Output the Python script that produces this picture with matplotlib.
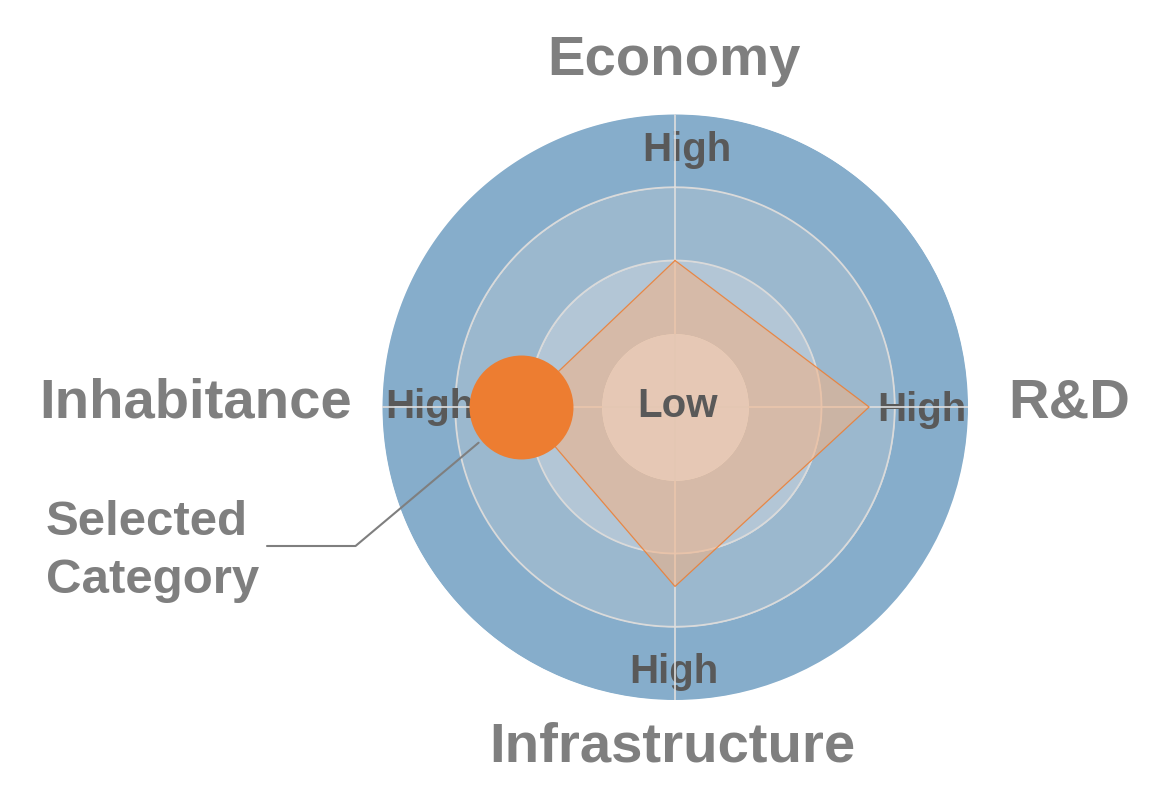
import numpy as np
import matplotlib.pyplot as plt

# axes go clockwise from the top
categories = ["Economy", "R&D", "Infrastructure", "Inhabitance"]
values = [2.0, 2.65, 2.45, 2.1]
selected = "Inhabitance"
ring_levels = [1, 2, 3, 4]
level_labels = ["Low", "High"]

plt.rcParams['font.family'] = ['Liberation Sans', 'DejaVu Sans']

fig = plt.figure(figsize=(11.65, 8.11), dpi=100)
# centre of the chart sits at pixel (675, 407), outer radius 293 px
ax = fig.add_axes([382 / 1165, 111 / 811, 586 / 1165, 586 / 811], projection='polar')
ax.set_theta_zero_location('N')
ax.set_theta_direction(-1)
ax.set_ylim(0, ring_levels[-1])
ax.axis('off')

angles = np.arange(len(categories)) * 2 * np.pi / len(categories)
theta = np.linspace(0, 2 * np.pi, 500)

# coloured rings, outside in
ring_colors = ['#86adcb', '#9bb8ce', '#b3c6d6']
for lo, col in zip([3, 2, 1], ring_colors):
    ax.fill_between(theta, lo, lo + 1, color=col, lw=0, zorder=1)

for lvl in ring_levels[1:3]:
    ax.plot(theta, np.full_like(theta, lvl), color='#dadada', lw=1.3, zorder=2)

# spokes
for a in angles:
    ax.plot([a, a], [0, ring_levels[-1]], color='#dedede', lw=1.2, zorder=3)

# the data polygon
ang_c = np.append(angles, angles[0])
val_c = np.append(values, values[0])
ax.fill(ang_c, val_c, color='#f4b183', alpha=0.55, lw=0, zorder=4)
ax.plot(ang_c, val_c, color='#ed7d31', lw=0.9, alpha=0.85, zorder=4)

# inner "low" disc
ax.fill_between(theta, 0, ring_levels[0], color='#e3c7b4', alpha=0.85, lw=0, zorder=5)

# level labels
high_offsets = [(11.5, -47), (-46, -14), (-1, 17), (47.5, -11)]
for a, off in zip(angles, high_offsets):
    ax.annotate(level_labels[1], xy=(a, ring_levels[-1]), xytext=off,
                textcoords='offset pixels', ha='center', va='baseline',
                fontsize=29, fontweight='bold', color='#595959', zorder=2.5,
                annotation_clip=False)
ax.annotate(level_labels[0], xy=(0, 0), xytext=(3, -10), textcoords='offset pixels',
            ha='center', va='baseline', fontsize=29, fontweight='bold',
            color='#595959', zorder=8, annotation_clip=False)

# category names
cat_offsets = [(-1, 39), (40, -10), (-3, -62), (-30, -10)]
cat_ha = ['center', 'left', 'center', 'right']
for a, name, off, ha in zip(angles, categories, cat_offsets, cat_ha):
    ax.annotate(name, xy=(a, ring_levels[-1]), xytext=off, textcoords='offset pixels',
                ha=ha, va='baseline', fontsize=40.5, fontweight='bold',
                color='#7f7f7f', annotation_clip=False)

# selected category marker
idx = categories.index(selected)
ax.scatter([angles[idx]], [values[idx]], s=5600, color='#ed7d31', lw=0, zorder=7)

ax.annotate("", xy=(angles[idx], values[idx]), xycoords='data',
            xytext=(267, 811 - 546), textcoords='figure pixels',
            arrowprops=dict(arrowstyle='-', color='#7f7f7f', lw=1.5,
                            shrinkA=0, shrinkB=40,
                            connectionstyle='angle,angleA=0,angleB=40,rad=0'),
            annotation_clip=False, zorder=6)

fig.text(46 / 1165, (811 - 535) / 811, "Selected", ha='left', va='baseline',
         fontsize=35.5, fontweight='bold', color='#7f7f7f')
fig.text(46 / 1165, (811 - 593) / 811, "Category", ha='left', va='baseline',
         fontsize=35.5, fontweight='bold', color='#7f7f7f')

fig.savefig('out.png', dpi=100)
